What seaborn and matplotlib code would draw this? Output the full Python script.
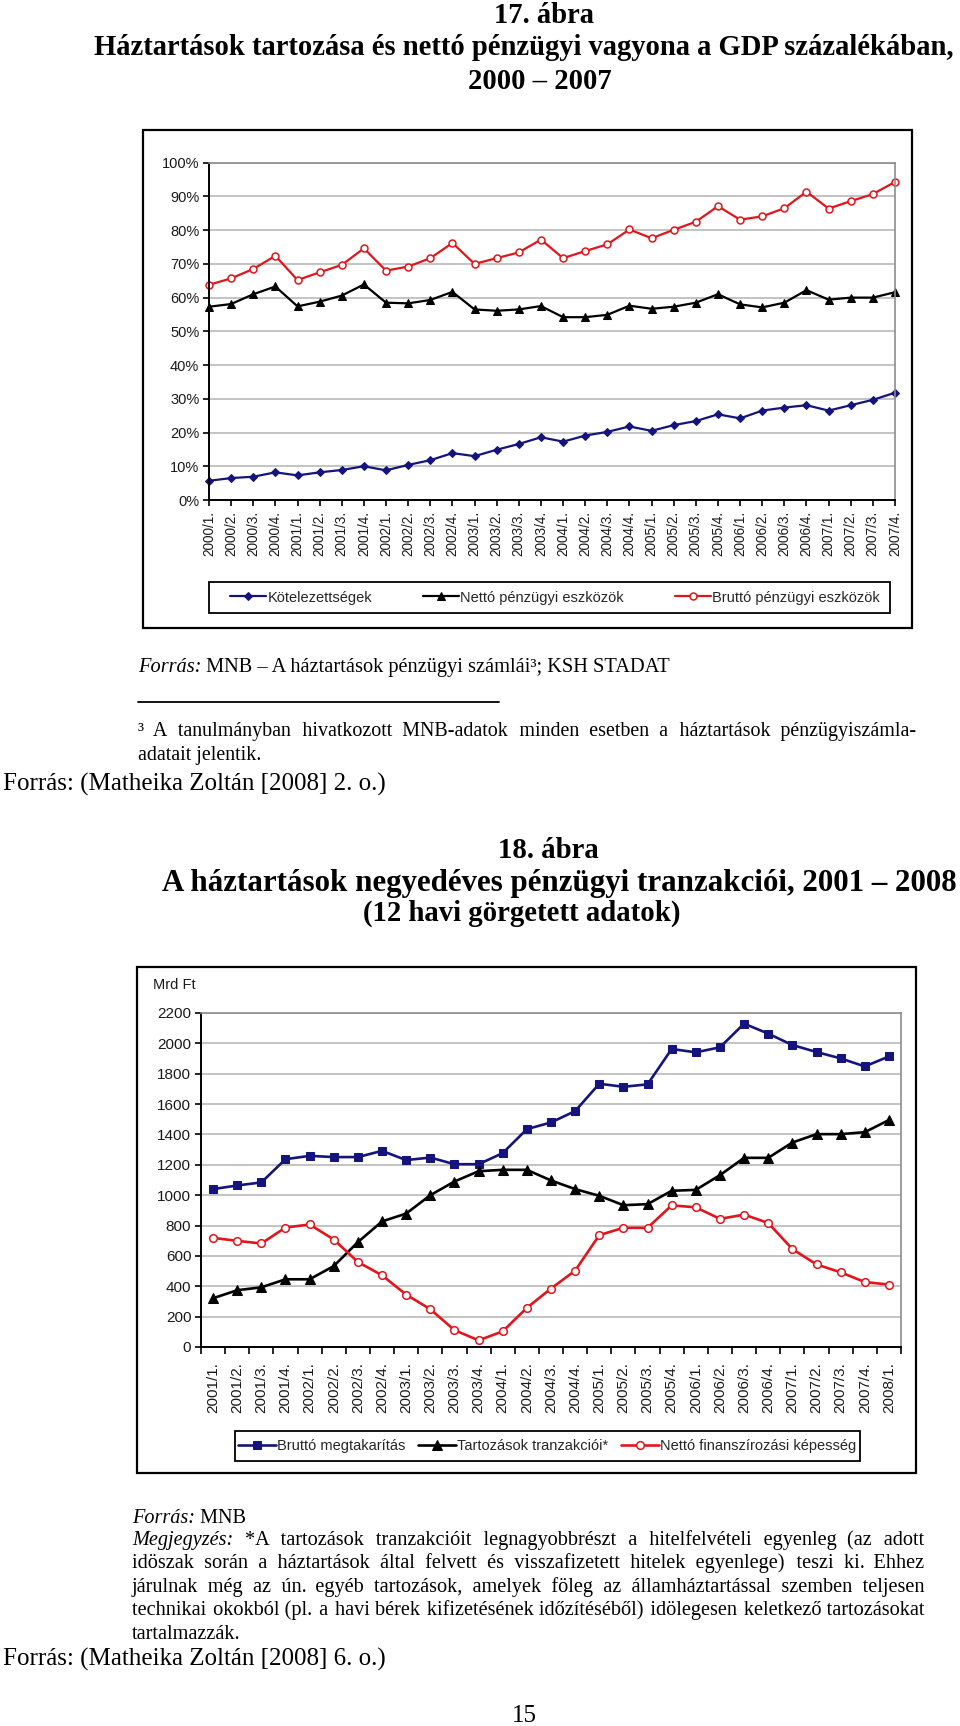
import numpy as np
import pandas as pd
import matplotlib
matplotlib.use("Agg")
import matplotlib.pyplot as plt
import seaborn as sns
from matplotlib.patches import Rectangle
from matplotlib.lines import Line2D
from matplotlib import font_manager as fm

# ---------------- data ----------------
top_quarters = ["2000/1.", "2000/2.", "2000/3.", "2000/4.", "2001/1.", "2001/2.", "2001/3.", "2001/4.",
                "2002/1.", "2002/2.", "2002/3.", "2002/4.", "2003/1.", "2003/2.", "2003/3.", "2003/4.",
                "2004/1.", "2004/2.", "2004/3.", "2004/4.", "2005/1.", "2005/2.", "2005/3.", "2005/4.",
                "2006/1.", "2006/2.", "2006/3.", "2006/4.", "2007/1.", "2007/2.", "2007/3.", "2007/4."]
top_kotelezettsegek = [5.7, 6.5, 6.9, 8.2, 7.3, 8.2, 8.9, 10.0, 8.8, 10.4, 11.8, 13.9, 13.0, 14.9, 16.6, 18.6,
                       17.3, 19.1, 20.2, 21.8, 20.5, 22.2, 23.4, 25.4, 24.2, 26.5, 27.4, 28.1, 26.5, 28.1, 29.7, 31.8]
top_netto_eszkozok = [57.3, 58.1, 61.0, 63.3, 57.4, 58.8, 60.6, 63.9, 58.5, 58.3, 59.3, 61.7, 56.5, 56.1, 56.5, 57.5,
                      54.2, 54.2, 54.9, 57.6, 56.7, 57.3, 58.5, 61.0, 58.0, 57.1, 58.5, 62.2, 59.4, 60.0, 60.0, 61.6]
top_brutto_eszkozok = [63.8, 65.7, 68.5, 72.4, 65.2, 67.5, 69.7, 74.6, 68.0, 69.2, 71.7, 76.2, 70.0, 71.7, 73.4, 77.2,
                       71.7, 73.8, 75.8, 80.2, 77.6, 80.1, 82.5, 87.1, 83.1, 84.1, 86.5, 91.4, 86.4, 88.6, 90.7, 94.3]
top_yticks = [0, 10, 20, 30, 40, 50, 60, 70, 80, 90, 100]
top_ylabels = ["0%", "10%", "20%", "30%", "40%", "50%", "60%", "70%", "80%", "90%", "100%"]
top_names = ["Kötelezettségek", "Nettó pénzügyi eszközök", "Bruttó pénzügyi eszközök"]

bot_quarters = ["2001/1.", "2001/2.", "2001/3.", "2001/4.", "2002/1.", "2002/2.", "2002/3.", "2002/4.",
                "2003/1.", "2003/2.", "2003/3.", "2003/4.", "2004/1.", "2004/2.", "2004/3.", "2004/4.",
                "2005/1.", "2005/2.", "2005/3.", "2005/4.", "2006/1.", "2006/2.", "2006/3.", "2006/4.",
                "2007/1.", "2007/2.", "2007/3.", "2007/4.", "2008/1."]
bot_brutto_megtakaritas = [1040, 1064, 1084, 1237, 1259, 1251, 1251, 1292, 1231, 1248, 1204, 1204, 1277, 1435, 1479,
                           1554, 1734, 1714, 1730, 1963, 1941, 1974, 2130, 2064, 1989, 1943, 1901, 1848, 1914]
bot_tartozasok = [321, 374, 393, 446, 446, 533, 691, 827, 879, 1000, 1090, 1158, 1167, 1167, 1097, 1040, 996,
                  934, 941, 1029, 1035, 1132, 1246, 1246, 1347, 1402, 1402, 1415, 1495]
bot_netto_finansz = [719, 699, 682, 787, 807, 708, 560, 472, 345, 249, 111, 44, 103, 258, 385, 503, 737, 785,
                     785, 933, 920, 844, 872, 817, 645, 544, 492, 428, 411]
bot_yticks = [0, 200, 400, 600, 800, 1000, 1200, 1400, 1600, 1800, 2000, 2200]
bot_names = ["Bruttó megtakarítás", "Tartozások tranzakciói*", "Nettó finanszírozási képesség"]

# ---------------- setup ----------------
sns.set_theme(style="white")
avail = {f.name for f in fm.fontManager.ttflist}
SANS = "Liberation Sans" if "Liberation Sans" in avail else "DejaVu Sans"
SERIF = "Liberation Serif" if "Liberation Serif" in avail else "DejaVu Serif"
plt.rcParams["font.family"] = [SANS, "DejaVu Sans"]

W, H = 960, 1726
fig = plt.figure(figsize=(W / 100, H / 100), dpi=100)
fig.patch.set_facecolor("white")
renderer = fig.canvas.get_renderer()

NAVY = "#14147c"
RED = "#e3141c"
BLACK = "#000000"
GRID = "#b3b3b3"


def rect(l, t, r, b):
    return [l / W, 1 - b / H, (r - l) / W, (b - t) / H]


def box(l, t, r, b, lw=1.6):
    fig.add_artist(Rectangle((l / W, 1 - b / H), (r - l) / W, (b - t) / H, transform=fig.transFigure,
                             fill=False, ec="black", lw=lw))


def twidth(s, size, family=SERIF, weight="normal", style="normal"):
    t = fig.text(0, 0, s, fontsize=size, family=family, weight=weight, style=style)
    w = t.get_window_extent(renderer=renderer).width
    t.remove()
    return w


def ptext(x, yb, s, size, ha="left", family=SERIF, weight="normal", style="normal"):
    return fig.text(round(x) / W, 1 - yb / H, s, fontsize=size, family=family, weight=weight, style=style,
                    ha=ha, va="baseline", color="black")


def fit_size(s, width, base=14, **kw):
    return base * width / twidth(s, base, **kw)


def justify_line(words, x0, x1, yb, size, first_italic=False):
    """Justify a line (drawn as one Text, plus an optional italic lead word) by
    filling each gap with regular and hair spaces up to the ideal word position."""
    sp = twidth("a a", size) - twidth("aa", size)
    hair = twidth("a\u200aa", size) - twidth("aa", size)
    if hair < 0.3:
        hair = None
    if first_italic:
        head = words[0]
        hw = twidth(head, size, style="italic")
        ptext(x0, yb, head, size, style="italic")
        words = words[1:]
        start = x0 + hw
        lead = True
    else:
        start = x0
        lead = False
    widths = [twidth(w, size) for w in words]
    ngaps = len(words) - 1 + (1 if lead else 0)
    gap = (x1 - start - sum(widths)) / ngaps

    def filler(need):
        n = max(int(need // sp), 1)
        rem = need - n * sp
        h = int(round(rem / hair)) if (hair and rem > 0) else 0
        return " " * n + "\u200a" * h

    s = ""
    target = 0.0
    if lead:
        target = gap
        s = filler(target)
    for i, w in enumerate(words):
        if i > 0:
            target += widths[i - 1] + gap
            cw = twidth(s, size)
            s += filler(target - cw)
        s += w
    ptext(start, yb, s, size)


def style_axes(ax, ylim, yticks, ylabels, yfs):
    ax.set_facecolor("white")
    ax.set_ylim(*ylim)
    ax.set_yticks(yticks)
    ax.set_yticklabels(ylabels, fontsize=yfs, color="#1a1a1a")
    ax.yaxis.grid(True, color=GRID, lw=1.1)
    ax.xaxis.grid(False)
    ax.set_axisbelow(True)
    for s in ["left", "bottom"]:
        ax.spines[s].set_color("black")
        ax.spines[s].set_linewidth(1.4)
    for s in ["top", "right"]:
        ax.spines[s].set_color("#8c8c8c")
        ax.spines[s].set_linewidth(1.2)
    ax.tick_params(axis="y", direction="out", length=4, width=1.2, color="black", pad=3, left=True)
    ax.set_xlabel("")
    ax.set_ylabel("")


def legend_in_box(handles, labels, frame, inner, handlelength, fs):
    l, t, r, b = frame
    box(l, t, r, b, lw=1.3)
    il, ir = inner
    leg = fig.legend(handles, labels, loc="center",
                     bbox_to_anchor=(il / W, 1 - b / H, (ir - il) / W, (b - t) / H),
                     bbox_transform=fig.transFigure, mode="expand", ncol=3, frameon=False,
                     borderaxespad=0, borderpad=0, handlelength=handlelength,
                     handletextpad=0.08, columnspacing=0.5, prop={"family": SANS, "size": fs})
    return leg


# ---------------- top chart ----------------
box(143, 130, 912, 628)
ax1 = fig.add_axes(rect(209, 162.7, 895, 500))
pos_top = np.arange(len(top_quarters))
df_top = pd.DataFrame({"pos": pos_top, "kot": top_kotelezettsegek,
                       "net": top_netto_eszkozok, "bru": top_brutto_eszkozok})
sns.lineplot(data=df_top, x="pos", y="kot", ax=ax1, color=NAVY, lw=1.6, marker="D", markersize=4.2,
             markeredgecolor=NAVY, markerfacecolor=NAVY, clip_on=False, legend=False)
sns.lineplot(data=df_top, x="pos", y="net", ax=ax1, color=BLACK, lw=1.6, marker="^", markersize=6,
             markeredgecolor=BLACK, markerfacecolor=BLACK, clip_on=False, legend=False)
sns.lineplot(data=df_top, x="pos", y="bru", ax=ax1, color=RED, lw=1.6, marker="o", markersize=5,
             markeredgecolor=RED, markerfacecolor="white", markeredgewidth=1.1, clip_on=False, legend=False)
ax1.set_xlim(0, len(top_quarters) - 1)
style_axes(ax1, (0, 100), top_yticks, top_ylabels, 10.5)
ax1.set_xticks(pos_top)
ax1.set_xticklabels(top_quarters, rotation=90, fontsize=9.8, color="#1a1a1a")
ax1.tick_params(axis="x", direction="out", length=4, width=1.2, color="black", pad=4, bottom=True)
legend_in_box(list(ax1.lines), top_names, (209, 582, 890, 613), (230, 880), 2.5, 10.5)

# ---------------- bottom chart ----------------
box(137, 967, 916, 1473)
ax2 = fig.add_axes(rect(201, 1013, 901, 1347))
pos_bot = np.arange(len(bot_quarters))
df_bot = pd.DataFrame({"pos": pos_bot, "megt": bot_brutto_megtakaritas,
                       "tart": bot_tartozasok, "nfk": bot_netto_finansz})
sns.lineplot(data=df_bot, x="pos", y="megt", ax=ax2, color=NAVY, lw=1.9, marker="s", markersize=6,
             markeredgecolor=NAVY, markerfacecolor=NAVY, clip_on=False, legend=False)
sns.lineplot(data=df_bot, x="pos", y="tart", ax=ax2, color=BLACK, lw=1.9, marker="^", markersize=7,
             markeredgecolor=BLACK, markerfacecolor=BLACK, clip_on=False, legend=False)
sns.lineplot(data=df_bot, x="pos", y="nfk", ax=ax2, color=RED, lw=1.9, marker="o", markersize=5.5,
             markeredgecolor=RED, markerfacecolor="white", markeredgewidth=1.1, clip_on=False, legend=False)
ax2.set_xlim(-0.5, len(bot_quarters) - 0.5)
style_axes(ax2, (0, 2200), bot_yticks, [str(v) for v in bot_yticks], 11)
ax2.set_xticks(np.arange(-0.5, len(bot_quarters)))
ax2.set_xticklabels([])
ax2.set_xticks(pos_bot, minor=True)
ax2.set_xticklabels(bot_quarters, minor=True, rotation=90, fontsize=11, color="#1a1a1a")
ax2.tick_params(axis="x", which="major", direction="out", length=5, width=1.2, color="black", bottom=True)
ax2.tick_params(axis="x", which="minor", length=0, pad=11, bottom=True)
fig.text(153 / W, 1 - 985 / H, "Mrd Ft", fontsize=10.5, family=SANS, ha="left", va="center", color="#1a1a1a")
legend_in_box(list(ax2.lines), bot_names, (235, 1431, 860, 1461), (238, 856), 2.6, 10.5)

# ---------------- titles ----------------
t1_line2 = "Háztartások tartozása és nettó pénzügyi vagyona a GDP százalékában,"
ts1 = fit_size(t1_line2, 865, weight="bold")
ptext(544, 23, "17. ábra", ts1, ha="center", weight="bold")
ptext(524, 55, t1_line2, ts1, ha="center", weight="bold")
ptext(540, 89, "2000 – 2007", ts1, ha="center", weight="bold")

t2_line2 = "A háztartások negyedéves pénzügyi tranzakciói, 2001 – 2008"
ts2 = fit_size(t2_line2, 798, weight="bold")
ts2b = ts2 * 0.93
ptext(548, 858, "18. ábra", ts2b, ha="center", weight="bold")
ptext(559, 891, t2_line2, ts2, ha="center", weight="bold")
ptext(522, 921, "(12 havi görgetett adatok)", ts2b, ha="center", weight="bold")

# ---------------- source / footnote under chart 1 ----------------
src_size = fit_size("Forrás: MNB – A háztartások pénzügyi számlái³; KSH STADAT", 529)
fw = twidth("Forrás:", src_size, style="italic")
ptext(138, 672, "Forrás:", src_size, style="italic")
ptext(138 + fw, 672, " MNB – A háztartások pénzügyi számlái³; KSH STADAT", src_size)
fig.add_artist(Line2D([138 / W, 499 / W], [1 - 702 / H, 1 - 702 / H], transform=fig.transFigure,
                      color="black", lw=1.3))
fn1 = "³ A tanulmányban hivatkozott MNB-adatok minden esetben a háztartások pénzügyiszámla-"
fn_size = min(14.4, fit_size(fn1, 770))
justify_line(fn1.split(" "), 138, 916, 736, fn_size)
ptext(138, 760, "adatait jelentik.", fn_size)

cite1 = "Forrás: (Matheika Zoltán [2008] 2. o.)"
cite_size = fit_size(cite1, 385)
ptext(3, 791, cite1, cite_size)

# ---------------- source / note under chart 2 ----------------
note_lines = [
    "Megjegyzés: *A tartozások tranzakcióit legnagyobbrészt a hitelfelvételi egyenleg (az adott",
    "idöszak során a háztartások által felvett és visszafizetett hitelek egyenlege) teszi ki. Ehhez",
    "járulnak még az ún. egyéb tartozások, amelyek föleg az államháztartással szemben teljesen",
    "technikai okokból (pl. a havi bérek kifizetésének időzítéséből) idölegesen keletkező tartozásokat",
]
note_size = min(14.6, min(fit_size(ln, 786) for ln in note_lines))
nw = twidth("Forrás:", note_size, style="italic")
ptext(132, 1523, "Forrás:", note_size, style="italic")
ptext(132 + nw, 1523, " MNB", note_size)
note_y = [1545, 1568, 1592, 1615]
for i, (ln, yb) in enumerate(zip(note_lines, note_y)):
    justify_line(ln.split(" "), 132, 925, yb, note_size, first_italic=(i == 0))
ptext(132, 1639, "tartalmazzák.", note_size)

ptext(3, 1666, "Forrás: (Matheika Zoltán [2008] 6. o.)", cite_size)
ptext(524, 1722, "15", cite_size, ha="center")

fig.savefig("out.png", dpi=100, facecolor="white")
